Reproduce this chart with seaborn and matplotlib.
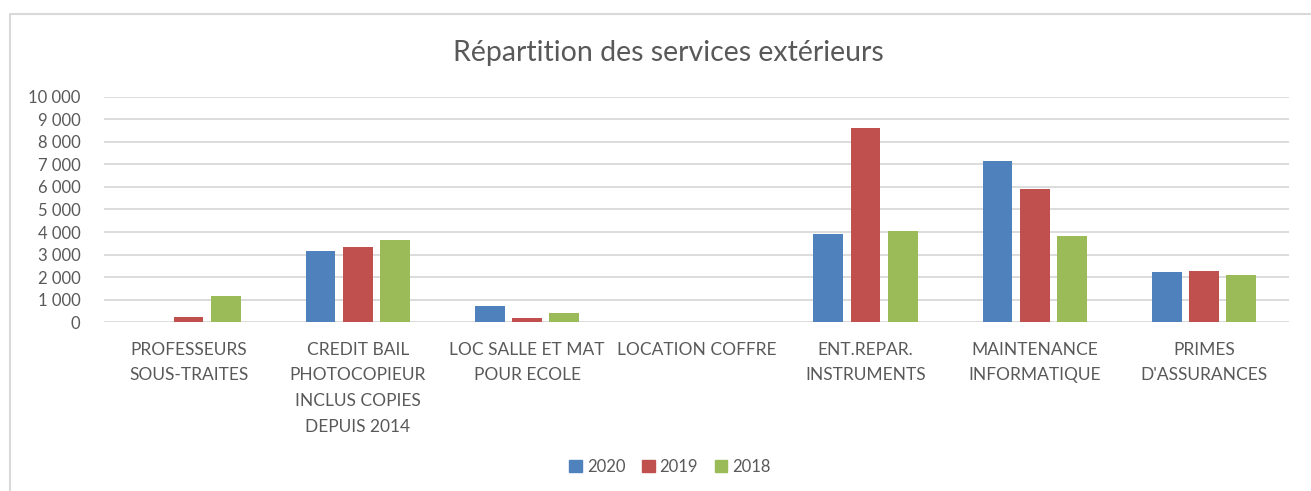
import numpy as np
import pandas as pd
import matplotlib
matplotlib.use("Agg")
import matplotlib.pyplot as plt
from matplotlib.ticker import FuncFormatter, MultipleLocator
from matplotlib.lines import Line2D
import seaborn as sns

# Data
categories = [
    "PROFESSEURS\nSOUS-TRAITES",
    "CREDIT BAIL\nPHOTOCOPIEUR\nINCLUS COPIES\nDEPUIS 2014",
    "LOC SALLE ET MAT\nPOUR ECOLE",
    "LOCATION COFFRE",
    "ENT.REPAR.\nINSTRUMENTS",
    "MAINTENANCE\nINFORMATIQUE",
    "PRIMES\nD'ASSURANCES",
]
years = ["2020", "2019", "2018"]
values_2020 = [0, 3150, 700, 0, 3910, 7130, 2230]
values_2019 = [220, 3340, 200, 0, 8630, 5890, 2270]
values_2018 = [1170, 3660, 400, 0, 4050, 3830, 2100]
colors = ["#4F81BD", "#C0504D", "#9BBB59"]

df = pd.DataFrame({
    "categorie": categories * 3,
    "annee": [y for y in years for _ in categories],
    "montant": values_2020 + values_2019 + values_2018,
})

sns.set_theme(style="white")
plt.rcParams["font.family"] = ["Lato", "DejaVu Sans"]
text_color = "#595959"

fig = plt.figure(figsize=(13.11, 4.91), dpi=100)
ax = fig.add_axes([0.0793, 0.3436, 0.9037, 0.4595])

sns.barplot(data=df, x="categorie", y="montant", hue="annee", hue_order=years,
            palette=colors, width=0.66, gap=0.2, linewidth=0, saturation=1,
            ax=ax, legend=False)

ax.set_ylim(0, 10000)
ax.set_xlim(-0.5, len(categories) - 0.5)
ax.yaxis.set_major_locator(MultipleLocator(1000))
ax.yaxis.set_major_formatter(FuncFormatter(lambda v, p: f"{v:,.0f}".replace(",", " ")))
ax.set_xlabel("")
ax.set_ylabel("")
ax.grid(axis="y", color="#D9D9D9", linewidth=1.3)
ax.set_axisbelow(True)
for s in ax.spines.values():
    s.set_visible(False)
ax.tick_params(axis="y", length=0, pad=17, labelsize=12, labelcolor=text_color)
ax.tick_params(axis="x", length=0, pad=14, labelsize=12.5, labelcolor=text_color)
for lab in ax.get_xticklabels():
    lab.set_linespacing(1.75)

fig.text(0.510, 0.893, "Répartition des services extérieurs", ha="center", va="center",
         fontsize=20.5, color=text_color)

handles = [plt.Rectangle((0, 0), 1, 1, color=c) for c in colors]
fig.legend(handles, years, loc="center", bbox_to_anchor=(670 / 1311, 1 - 467 / 491),
           ncol=3, frameon=False, handlelength=0.75, handleheight=0.75,
           handletextpad=0.3, columnspacing=1.0, fontsize=12, labelcolor=text_color)

# light chart-area frame (left and top edges visible)
fig.add_artist(Line2D([10 / 1311, 10 / 1311, 1.0], [0.0, 1 - 14 / 491, 1 - 14 / 491],
                      transform=fig.transFigure, color="#D9D9D9", linewidth=1.5))

fig.savefig("out.png", dpi=100, facecolor="white")
